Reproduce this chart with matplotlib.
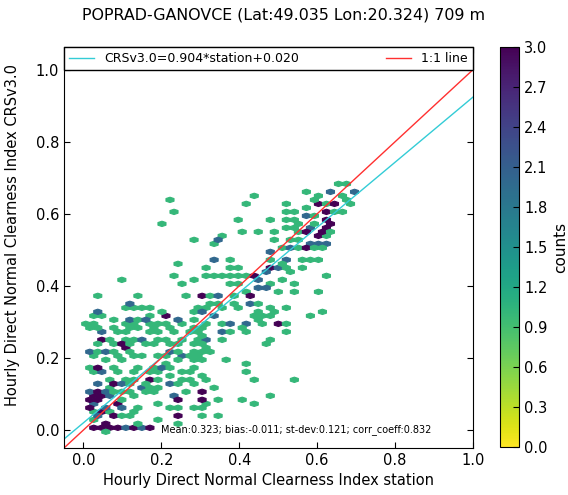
import numpy as np
import matplotlib
matplotlib.use('Agg')
import matplotlib.pyplot as plt

# hexes seen once (station, CRSv3.0)
stn_1 = [0.222, 0.233, 0.201, 0.285, 0.342, 0.330, 0.244, 0.316, 0.233, 0.316, 0.338, 0.285, 0.096, 0.254,
         0.327, 0.348,
         0.443, 0.423, 0.526, 0.577, 0.654, 0.611, 0.590, 0.663, 0.675, 0.632, 0.672, 0.692, 0.580, 0.645,
         0.665, 0.526, 0.547, 0.598, 0.402, 0.481, 0.526, 0.547, 0.560, 0.590, 0.513, 0.534, 0.406, 0.453,
         0.500, 0.543, 0.638, 0.624, 0.342, 0.350, 0.491, 0.526, 0.547, 0.504, 0.547, 0.585, 0.605, 0.380,
         0.483, 0.560, 0.581, 0.602, 0.380, 0.402, 0.483, 0.509, 0.530, 0.556, 0.355, 0.376, 0.423, 0.402,
         0.525, 0.624, 0.380, 0.402, 0.485, 0.504, 0.547, 0.351, 0.380, 0.412, 0.492, 0.547, 0.594, 0.316,
         0.338, 0.359, 0.380, 0.402, 0.453, 0.474, 0.526, 0.622, 0.432, 0.453, 0.474, 0.573, 0.496,
         0.441, 0.359, 0.402, 0.445, 0.462, 0.526, 0.513, 0.380, 0.423, 0.304, 0.316, 0.359, 0.483, 0.474,
         0.308, 0.329, 0.368, 0.423, 0.423, 0.308, 0.443, 0.547, 0.338, 0.349, 0.410, 0.486, 0.316, 0.443,
         0.308, 0.349,
         0.030, 0.133, 0.265, 0.316, 0.107, 0.128, 0.150, 0.171, 0.290, 0.197, 0.205, 0.222, 0.282,
         0.023, 0.045, 0.081, 0.133, 0.171, 0.286,
         0.013, 0.034, 0.107, 0.128, 0.167, 0.192, 0.214, 0.257, 0.312,
         0.009, 0.030, 0.086, 0.116, 0.137, 0.188, 0.226, 0.274, 0.303,
         0.081, 0.111, 0.163, 0.201, 0.240, 0.265, 0.290,
         0.064, 0.107, 0.128, 0.197, 0.222, 0.248, 0.286, 0.308,
         0.030, 0.086, 0.120, 0.163, 0.184, 0.218, 0.240, 0.274, 0.299,
         0.030, 0.077, 0.128, 0.252, 0.274, 0.299,
         0.030, 0.081, 0.120, 0.150, 0.197, 0.222, 0.274, 0.295,
         0.060, 0.103, 0.210, 0.240, 0.278, 0.299,
         0.009, 0.030, 0.077, 0.141, 0.175, 0.227, 0.286,
         0.017, 0.090, 0.120, 0.163, 0.188, 0.248, 0.282,
         0.077, 0.103, 0.137, 0.197, 0.222, 0.257, 0.282, 0.308,
         0.120, 0.158, 0.248, 0.274,
         0.077, 0.175, 0.201,
         0.073, 0.103, 0.128, 0.154, 0.188, 0.265, 0.308,
         0.128,
         0.103, 0.188, 0.240,
         0.141, 0.214, 0.240, 0.278, 0.308,
         0.017, 0.077, 0.120,
         0.094, 0.111, 0.248,
         0.026, 0.141, 0.188, 0.240,
         0.054]
crs_1 = [0.641, 0.607, 0.574, 0.530, 0.530, 0.520, 0.463, 0.452, 0.430, 0.430, 0.430, 0.419, 0.419, 0.407,
         0.374, 0.374,
         0.653, 0.630, 0.630, 0.664, 0.676, 0.653, 0.641, 0.653, 0.676, 0.630, 0.641, 0.630, 0.619, 0.606,
         0.606, 0.606, 0.606, 0.597, 0.583, 0.583, 0.583, 0.583, 0.574, 0.574, 0.565, 0.565, 0.551, 0.551,
         0.551, 0.551, 0.551, 0.532, 0.528, 0.537, 0.528, 0.528, 0.528, 0.510, 0.505, 0.505, 0.505, 0.472,
         0.472, 0.477, 0.472, 0.472, 0.454, 0.454, 0.454, 0.460, 0.449, 0.449, 0.428, 0.428, 0.428, 0.428,
         0.444, 0.433, 0.407, 0.407, 0.407, 0.412, 0.407, 0.375, 0.375, 0.384, 0.380, 0.384, 0.384, 0.343,
         0.352, 0.343, 0.352, 0.343, 0.352, 0.343, 0.343, 0.329, 0.319, 0.319, 0.314, 0.319, 0.329,
         0.325, 0.296, 0.287, 0.305, 0.296, 0.296, 0.273, 0.273, 0.273, 0.264, 0.250, 0.250, 0.252, 0.241,
         0.230, 0.218, 0.194, 0.185, 0.162, 0.153, 0.141, 0.141, 0.118, 0.086, 0.086, 0.095, 0.074, 0.074,
         0.040, 0.040,
         0.375, 0.375, 0.375, 0.354, 0.340, 0.340, 0.340, 0.340, 0.340, 0.324, 0.319, 0.319, 0.330,
         0.318, 0.318, 0.310, 0.310, 0.310, 0.310,
         0.295, 0.295, 0.295, 0.295, 0.295, 0.295, 0.295, 0.295, 0.295,
         0.283, 0.283, 0.283, 0.283, 0.283, 0.283, 0.283, 0.283, 0.283,
         0.272, 0.272, 0.272, 0.272, 0.272, 0.272, 0.272,
         0.252, 0.252, 0.252, 0.252, 0.252, 0.252, 0.252, 0.252,
         0.240, 0.240, 0.240, 0.240, 0.240, 0.240, 0.240, 0.240, 0.240,
         0.220, 0.220, 0.220, 0.220, 0.220, 0.220,
         0.204, 0.204, 0.204, 0.204, 0.204, 0.204, 0.204, 0.204,
         0.190, 0.190, 0.190, 0.190, 0.190, 0.190,
         0.176, 0.176, 0.176, 0.176, 0.176, 0.176, 0.176,
         0.160, 0.160, 0.160, 0.160, 0.160, 0.160, 0.160,
         0.143, 0.143, 0.143, 0.143, 0.143, 0.143, 0.143, 0.143,
         0.130, 0.130, 0.130, 0.130,
         0.120, 0.120, 0.120,
         0.106, 0.106, 0.106, 0.106, 0.106, 0.106, 0.106,
         0.092,
         0.078, 0.078, 0.078,
         0.064, 0.064, 0.064, 0.064, 0.064,
         0.050, 0.050, 0.050,
         0.037, 0.037, 0.037,
         0.023, 0.023, 0.023, 0.023,
         -0.006]

# hexes seen twice
stn_2 = [0.338, 0.338, 0.432, 0.380, 0.423, 0.359, 0.440, 0.466, 0.483, 0.504, 0.453, 0.474, 0.483, 0.526,
         0.526, 0.573, 0.594, 0.633, 0.573, 0.577, 0.641, 0.688, 0.308, 0.244,
         0.118, 0.030, 0.115, 0.154, 0.244, 0.043, 0.150, 0.010, 0.056, 0.226, 0.257, 0.043, 0.197,
         0.051, 0.030, 0.094, 0.222, 0.145, 0.013, 0.051, 0.060, 0.234, 0.034, 0.060, 0.098, 0.235,
         0.043, 0.109, 0.150, 0.312]
crs_2 = [0.474, 0.318, 0.352, 0.296, 0.296, 0.273, 0.417, 0.444, 0.444, 0.444, 0.389, 0.395, 0.500, 0.505,
         0.472, 0.519, 0.519, 0.519, 0.560, 0.597, 0.664, 0.662, 0.111, 0.086,
         0.354, 0.330, 0.308, 0.308, 0.308, 0.275, 0.252, 0.218, 0.218, 0.218, 0.209, 0.170, 0.172,
         0.160, 0.130, 0.130, 0.127, 0.120, 0.106, 0.104, 0.092, 0.092, 0.071, 0.064, 0.064, 0.041,
         0.037, 0.006, 0.006, 0.330]

# hexes seen three times or more
stn_3 = [0.432, 0.440, 0.504, 0.568, 0.603, 0.618, 0.564, 0.624, 0.641, 0.624, 0.624, 0.611, 0.652, 0.308,
         0.303, 0.212, 0.043, 0.098, 0.107, 0.171, 0.075, 0.030, 0.026, 0.043, 0.017, 0.038, 0.081,
         0.026, 0.038, 0.056, 0.068, 0.056, 0.026, 0.047, 0.067, 0.088, 0.129, 0.171]
crs_3 = [0.372, 0.428, 0.296, 0.500, 0.532, 0.546, 0.546, 0.560, 0.574, 0.583, 0.606, 0.630, 0.630, 0.086,
         0.375, 0.318, 0.253, 0.236, 0.225, 0.142, 0.130, 0.104, 0.092, 0.090, 0.079, 0.079, 0.074,
         0.064, 0.050, 0.047, 0.037, 0.023, 0.006, 0.006, 0.006, 0.006, 0.006, 0.006]

slope, intercept = 0.904, 0.020
title = 'POPRAD-GANOVCE (Lat:49.035 Lon:20.324) 709 m'
stats = 'Mean:0.323; bias:-0.011; st-dev:0.121; corr_coeff:0.832'

station = np.concatenate([stn_1, np.repeat(stn_2, 2), np.repeat(stn_3, 3)])
crs = np.concatenate([crs_1, np.repeat(crs_2, 2), np.repeat(crs_3, 3)])

plt.rcParams['xtick.direction'] = 'in'
plt.rcParams['ytick.direction'] = 'in'
plt.rcParams['xtick.top'] = True
plt.rcParams['ytick.right'] = True

fig = plt.figure(figsize=(5.68, 4.95), dpi=100)
ax = fig.add_axes([0.1127, 0.095, 0.72, 0.81])
cax = fig.add_axes([0.880, 0.097, 0.034, 0.808])

sx, sy = 0.0206, 0.0222
x0, y0 = -0.0148, -0.0162
hb = ax.hexbin(station, crs, gridsize=(36, 32),
               extent=(x0, x0 + 36 * sx, y0, y0 + 32 * sy),
               mincnt=1, cmap='viridis_r', vmin=0, vmax=3,
               linewidths=0.8, edgecolors='face')

xx = np.array([-0.05, 1.0])
ax.plot(xx, slope * xx + intercept, color='#33ccd6', lw=1,
        label='CRSv3.0=%.3f*station+%.3f' % (slope, intercept))
ax.plot(xx, xx, color='#ff3030', lw=1, label='1:1 line')

ax.set_xlim(-0.05, 1.0)
ax.set_ylim(-0.05, 1.063)
ax.set_xticks([0.0, 0.2, 0.4, 0.6, 0.8, 1.0])
ax.set_yticks([0.0, 0.2, 0.4, 0.6, 0.8, 1.0])
ax.tick_params(labelsize=10.5, length=4)
ax.set_xlabel('Hourly Direct Normal Clearness Index station', fontsize=10.5)
ax.set_ylabel('Hourly Direct Normal Clearness Index CRSv3.0', fontsize=10.5)
ax.yaxis.set_label_coords(-0.108, 0.531)
ax.text(0.2, 0.0, stats, fontsize=7, va='center')

leg = ax.legend(loc='upper left', bbox_to_anchor=(0, 1, 1, 0), mode='expand', ncol=2,
                borderaxespad=0, fontsize=9, fancybox=False, framealpha=1)
leg.get_frame().set_edgecolor('black')

cb = fig.colorbar(hb, cax=cax, ticks=np.arange(0, 3.01, 0.3))
cb.ax.tick_params(labelsize=10.5, direction='in', length=4)
cb.set_label('counts', fontsize=11)

fig.suptitle(title, fontsize=11.4, x=0.5, y=0.985)

fig.savefig('out.png', dpi=100)
